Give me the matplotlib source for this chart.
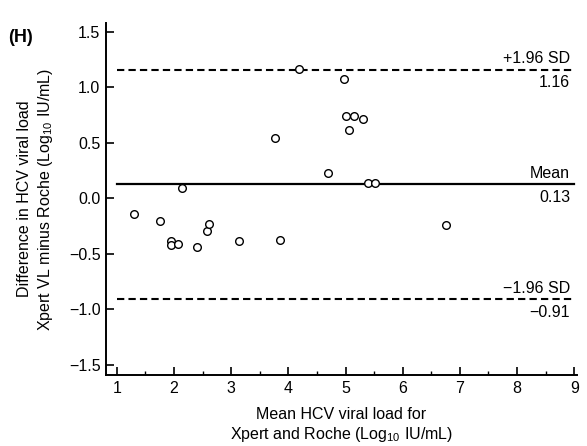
import matplotlib
matplotlib.use("Agg")
import matplotlib.pyplot as plt
from matplotlib.ticker import MultipleLocator

plt.rcParams['font.family'] = ['Liberation Sans', 'DejaVu Sans']
plt.rcParams['mathtext.fontset'] = 'custom'
plt.rcParams['mathtext.rm'] = 'Liberation Sans'
plt.rcParams['mathtext.it'] = 'Liberation Sans'

# mean of Xpert and Roche (log10 IU/mL) vs difference
mean_vl = [1.30, 1.75, 1.94, 1.95, 2.07, 2.14, 2.41, 2.58, 2.62, 3.13, 3.77,
           3.86, 4.18, 4.69, 4.97, 5.01, 5.06, 5.14, 5.31, 5.40, 5.52, 6.75]
diff_vl = [-0.14, -0.20, -0.38, -0.42, -0.41, 0.09, -0.44, -0.29, -0.23, -0.38, 0.54,
           -0.37, 1.17, 0.23, 1.08, 0.745, 0.615, 0.745, 0.715, 0.14, 0.14, -0.24]

bias = 0.13
upper = 1.16
lower = -0.91

fig = plt.figure(figsize=(5.87, 4.46), dpi=100)
ax = fig.add_axes([0.1806, 0.1592, 0.8025, 0.7892])

ax.plot(mean_vl, diff_vl, 'o', mfc='white', mec='black', ms=5.5, mew=1.0, zorder=3)

ax.plot([1, 9], [upper, upper], '--', color='black', lw=1.5, dashes=(3.5, 2))
ax.plot([1, 9], [bias, bias], '-', color='black', lw=1.6)
ax.plot([1, 9], [lower, lower], '--', color='black', lw=1.5, dashes=(3.5, 2))

fs = 11.5
ax.text(8.93, upper + 0.03, '+1.96 SD', ha='right', va='bottom', fontsize=fs)
ax.text(8.93, upper - 0.05, '1.16', ha='right', va='top', fontsize=fs)
ax.text(8.93, bias + 0.03, 'Mean', ha='right', va='bottom', fontsize=fs)
ax.text(8.93, bias - 0.05, '0.13', ha='right', va='top', fontsize=fs)
ax.text(8.93, lower + 0.03, '\u22121.96 SD', ha='right', va='bottom', fontsize=fs)
ax.text(8.93, lower - 0.05, '\u22120.91', ha='right', va='top', fontsize=fs)

ax.set_xlim(0.81, 9.05)
ax.set_ylim(-1.59, 1.58)
ax.xaxis.set_major_locator(MultipleLocator(1))
ax.xaxis.set_minor_locator(MultipleLocator(0.5))
ax.set_yticks([-1.5, -1.0, -0.5, 0.0, 0.5, 1.0, 1.5])
ax.set_yticklabels(['\u22121.5', '\u22121.0', '\u22120.5', '0.0', '0.5', '1.0', '1.5'])
ax.set_xticks(range(1, 10))

ax.tick_params(axis='both', which='major', direction='in', length=6, width=1.2,
               labelsize=fs, pad=4)
ax.tick_params(axis='x', which='minor', direction='in', length=3, width=1.0)
for side in ['top', 'right']:
    ax.spines[side].set_visible(False)
for side in ['left', 'bottom']:
    ax.spines[side].set_linewidth(1.4)

ax.set_xlabel('Mean HCV viral load for\nXpert and Roche (Log$_{10}$ IU/mL)',
              fontsize=fs, linespacing=1.25, labelpad=8)
ax.set_ylabel('Difference in HCV viral load\nXpert VL minus Roche (Log$_{10}$ IU/mL)',
              fontsize=fs, linespacing=1.25, labelpad=10)

fig.text(0.014, 0.905, '(H)', fontsize=13, fontweight='bold')

fig.savefig('out.png', dpi=100)
